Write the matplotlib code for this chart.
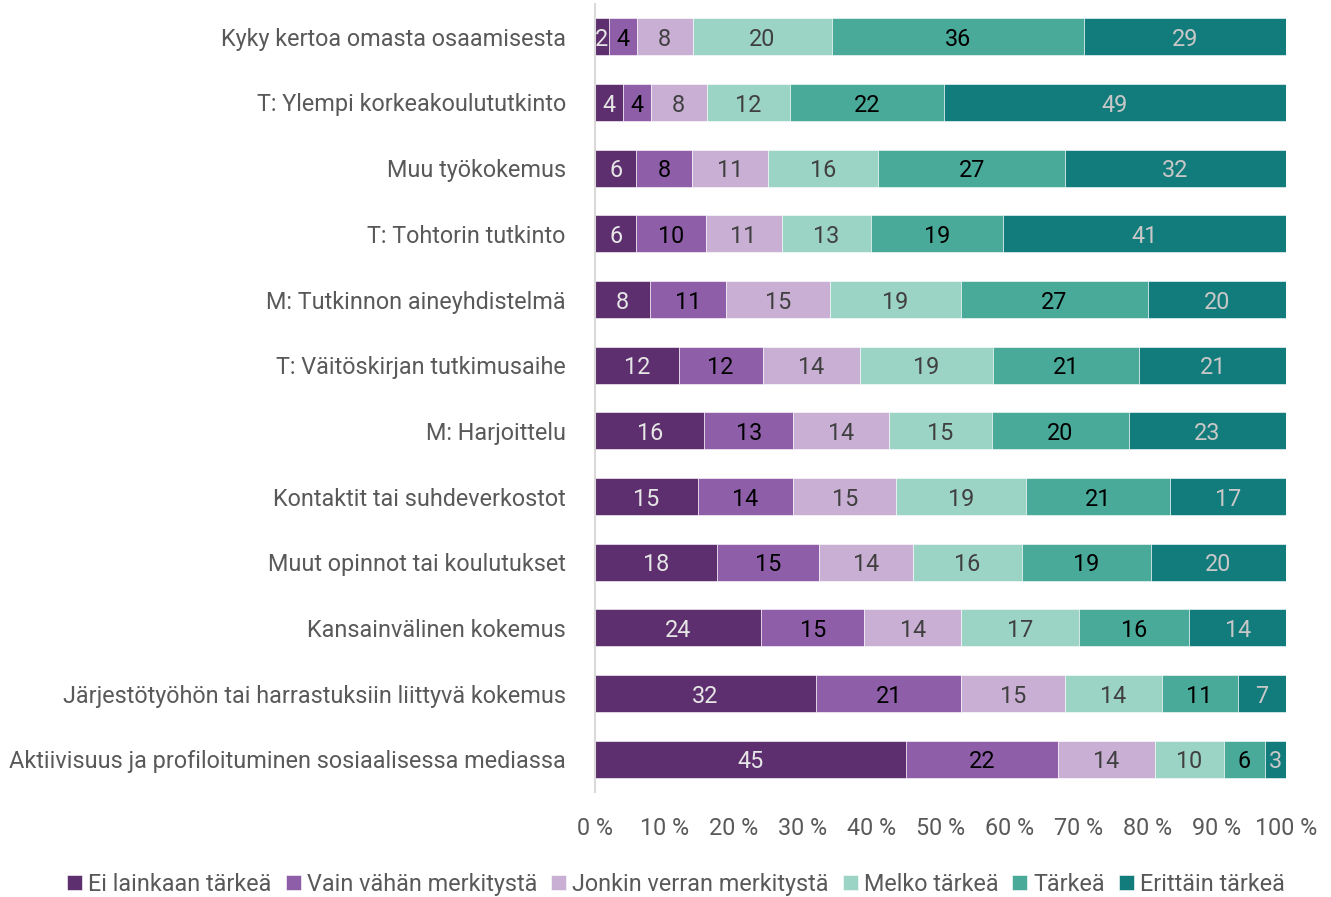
import matplotlib
matplotlib.use('Agg')
import matplotlib.pyplot as plt
from matplotlib import font_manager
import numpy as np

# Data
categories = [
    'Kyky kertoa omasta osaamisesta',
    'T: Ylempi korkeakoulututkinto',
    'Muu työkokemus',
    'T: Tohtorin tutkinto',
    'M: Tutkinnon aineyhdistelmä',
    'T: Väitöskirjan tutkimusaihe',
    'M: Harjoittelu',
    'Kontaktit tai suhdeverkostot',
    'Muut opinnot tai koulutukset',
    'Kansainvälinen kokemus',
    'Järjestötyöhön tai harrastuksiin liittyvä kokemus',
    'Aktiivisuus ja profiloituminen sosiaalisessa mediassa',
]
ei_lainkaan = [2, 4, 6, 6, 8, 12, 16, 15, 18, 24, 32, 45]
vain_vahan = [4, 4, 8, 10, 11, 12, 13, 14, 15, 15, 21, 22]
jonkin_verran = [8, 8, 11, 11, 15, 14, 14, 15, 14, 14, 15, 14]
melko = [20, 12, 16, 13, 19, 19, 15, 19, 16, 17, 14, 10]
tarkea = [36, 22, 27, 19, 27, 21, 20, 21, 19, 16, 11, 6]
erittain = [29, 49, 32, 41, 20, 21, 23, 17, 20, 14, 7, 3]

series_names = ['Ei lainkaan tärkeä', 'Vain vähän merkitystä', 'Jonkin verran merkitystä',
                'Melko tärkeä', 'Tärkeä', 'Erittäin tärkeä']
colors = ['#5e2f6e', '#8e5fa8', '#c9afd4', '#9bd3c4', '#4aaa9a', '#127b7b']
label_colors = ['#e6e6e6', '#000000', '#404040', '#404040', '#000000', '#c8c8c8']
x_ticks = [0, 10, 20, 30, 40, 50, 60, 70, 80, 90, 100]

available = {f.name for f in font_manager.fontManager.ttflist}
fam = [n for n in ['Roboto', 'Noto Sans'] if n in available][:1] + ['DejaVu Sans']
plt.rcParams['font.family'] = fam
fs = 16.8

data = np.array([ei_lainkaan, vain_vahan, jonkin_verran, melko, tarkea, erittain], dtype=float)
shares = data / data.sum(axis=0) * 100

fig = plt.figure(figsize=(13.31, 8.97), dpi=100)
ax = fig.add_axes([595 / 1331, 1 - 792 / 897, 691 / 1331, 788 / 897])

y = np.arange(len(categories))
left = np.zeros(len(categories))
for i, name in enumerate(series_names):
    ax.barh(y, shares[i], left=left, height=0.56, color=colors[i],
            edgecolor='white', linewidth=0.4, label=name)
    for j in range(len(categories)):
        ax.text(left[j] + shares[i][j] / 2, y[j], str(int(data[i][j])),
                ha='center', va='center_baseline', color=label_colors[i], fontsize=fs)
    left += shares[i]

ax.set_ylim(len(categories) - 0.5, -0.5)
ax.set_xlim(0, 100)
ax.set_yticks(y)
ax.set_yticklabels(categories, fontsize=fs, color='#595959')
ax.set_xticks(x_ticks)
ax.set_xticklabels([f'{t}\u00a0%' for t in x_ticks], fontsize=fs, color='#595959')
ax.tick_params(axis='both', length=0)
ax.tick_params(axis='x', pad=18)
ax.tick_params(axis='y', pad=21)
for s in ['top', 'right', 'bottom']:
    ax.spines[s].set_visible(False)
ax.spines['left'].set_color('#d9d9d9')
ax.spines['left'].set_linewidth(1.5)

fig.legend(loc='center', bbox_to_anchor=(676 / 1331, 1 - 884 / 897), ncol=6,
           frameon=False, fontsize=fs, handlelength=0.65, handleheight=0.65,
           handletextpad=0.25, columnspacing=0.6, labelcolor='#595959')

fig.savefig('out.png', dpi=100)
